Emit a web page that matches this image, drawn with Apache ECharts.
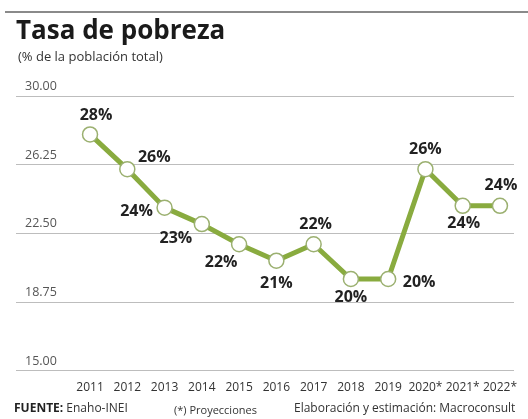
<!DOCTYPE html>
<html>
<head>
<meta charset="utf-8">
<script src="https://cdn.jsdelivr.net/npm/echarts@6/dist/echarts.min.js"></script>
<style>html,body{margin:0;padding:0;background:#fff}#c{width:528px;height:419px}</style>
</head>
<body>
<div id="c"></div>
<script>
const years = ['2011','2012','2013','2014','2015','2016','2017','2018','2019','2020*','2021*','2022*'];
const poverty = [27.9, 26.0, 23.9, 23.0, 21.9, 21.0, 21.9, 20.0, 20.0, 26.0, 24.0, 24.0];
const yMin = 15, yMax = 30, yStep = 3.75;

const labelOffsets = [[6,-19],[27,-12],[-28,4],[-26,14],[-18,18],[0,23],[2,-20],[0,18],[31,3],[0,-20],[1,18],[1,-20]];
const FONT = '"Open Sans", "Noto Sans", sans-serif';

const chart = echarts.init(document.getElementById('c'), null, {renderer:'canvas'});
chart.setOption({
  animation: false,
  backgroundColor: '#fff',
  textStyle: {fontFamily: FONT},
  grid: [
    {left: 16, right: 14, top: 96, bottom: 48.5},
    {left: 71.4, right: 9.4, top: 96, bottom: 48.5}
  ],
  xAxis: [
    {gridIndex: 0, type: 'value', show: false, min: 0, max: 1},
    {gridIndex: 1, type: 'category', data: years, boundaryGap: true,
     axisLine: {show: false}, axisTick: {show: false},
     axisLabel: {interval: 0, fontSize: 12, color: '#333', margin: 11, fontFamily: FONT}}
  ],
  yAxis: [
    {gridIndex: 0, type: 'value', min: yMin, max: yMax, interval: yStep,
     axisLine: {show: false}, axisTick: {show: false},
     splitLine: {show: true, lineStyle: {color: '#bdbdbd', width: 1}},
     axisLabel: {inside: true, margin: 9, verticalAlign: 'bottom', padding: [0,0,3,0],
       fontSize: 12.5, color: '#555', fontFamily: FONT,
       formatter: v => v.toFixed(2)}},
    {gridIndex: 1, type: 'value', min: yMin, max: yMax, show: false, splitLine: {show: false}}
  ],
  series: [{
    type: 'line',
    xAxisIndex: 1, yAxisIndex: 1,
    data: poverty.map((v, i) => ({
      value: v,
      label: {offset: labelOffsets[i]}
    })),
    lineStyle: {color: '#89ab3f', width: 5},
    symbol: 'circle',
    symbolSize: 15,
    itemStyle: {color: '#ffffff', borderColor: '#9bb070', borderWidth: 1.5},
    label: {show: true, position: 'inside', fontSize: 16, fontWeight: 'bold', color: '#222',
      fontFamily: FONT, formatter: p => Math.round(p.value) + '%'},
    z: 3
  }],
  graphic: [
    {type: 'line', shape: {x1: 5, y1: 12, x2: 528, y2: 12}, style: {stroke: '#8a8a8a', lineWidth: 2}},
    {type: 'text', left: 16, top: 19, style: {text: 'Tasa de pobreza', font: 'bold 26px ' + FONT, fill: '#1a1a1a'}},
    {type: 'text', left: 18, top: 51, style: {text: '(% de la población total)', font: '13px ' + FONT, fill: '#333'}},
    {type: 'text', left: 14, top: 403, style: {rich: {b: {font: 'bold 12px ' + FONT, fill: '#222'}, n: {font: '12px ' + FONT, fill: '#333'}}, text: '{b|FUENTE:}{n| Enaho-INEI}'}},
    {type: 'text', left: 174, top: 405, style: {text: '(*) Proyecciones', font: '11px ' + FONT, fill: '#333'}},
    {type: 'text', left: 294, top: 403, style: {text: 'Elaboración y estimación: Macroconsult', font: '12px ' + FONT, fill: '#333'}}
  ]
});
</script>
</body>
</html>
